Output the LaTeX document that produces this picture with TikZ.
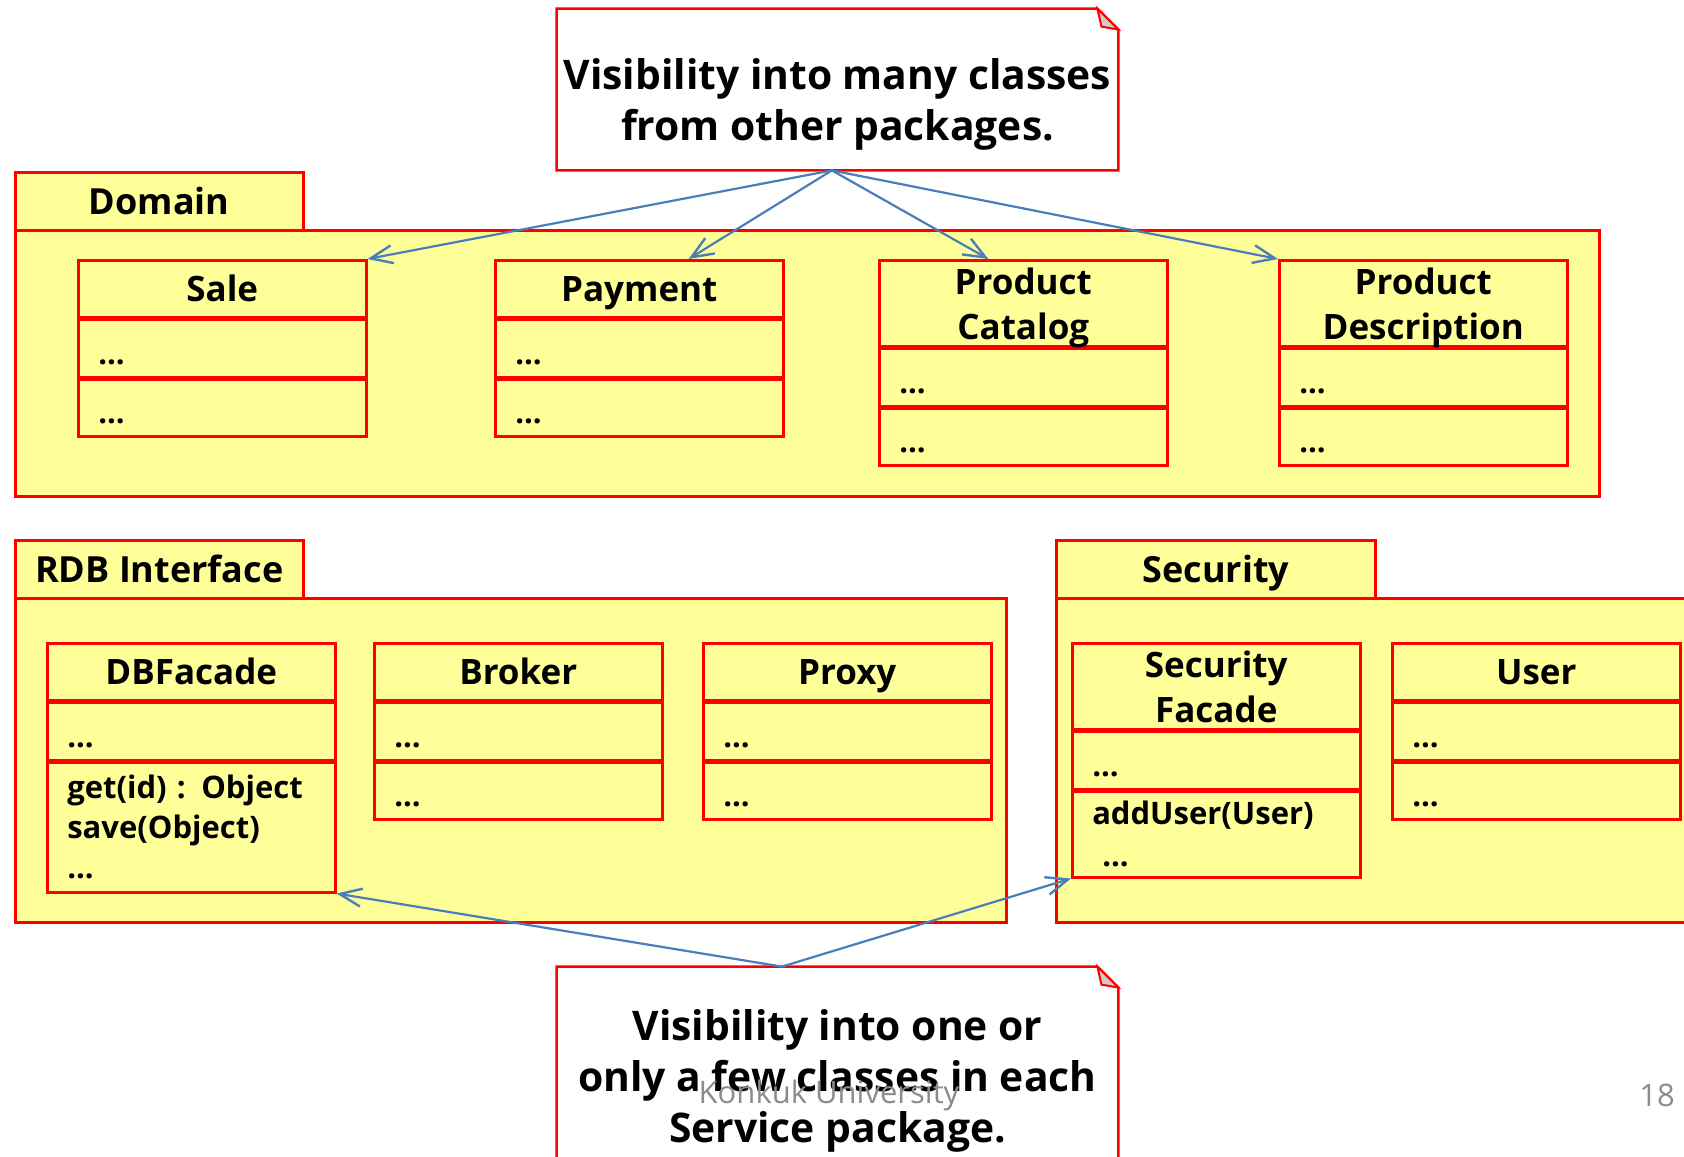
\documentclass[tikz,border=0pt]{standalone}
\usepackage{fontspec}
\setmainfont{Open Sans}
\usetikzlibrary{arrows.meta,calc}
\definecolor{umlred}{RGB}{255,0,0}
\definecolor{umlyellow}{RGB}{255,255,153}
\definecolor{arrowblue}{RGB}{74,126,187}
\definecolor{foldgray}{RGB}{205,205,205}
\definecolor{footgray}{RGB}{140,140,140}
\tikzset{
 box/.style={draw=umlred, fill=umlyellow, line width=1.25pt, inner sep=0pt, anchor=north west},
 tabbox/.style={box, minimum height=29pt, text height=13.2pt, text depth=0pt, font=\bfseries\fontsize{18}{22}\selectfont},
 bodybox/.style={box},
 head/.style={box, minimum width=144pt, minimum height=28.5pt, text height=13pt, text depth=0pt, align=center, font=\bfseries\fontsize{17.5}{22.5}\selectfont},
 headtwo/.style={box, minimum width=144pt, minimum height=43pt, text depth=0pt, align=center, font=\bfseries\fontsize{17.5}{22.5}\selectfont},
 comp/.style={box, minimum width=144pt, minimum height=28.5pt, inner xsep=10pt, text width=124pt, align=left, text height=16pt, text depth=0pt, font=\bfseries\fontsize{15.5}{20}\selectfont},
 compm/.style={box, minimum width=144pt, inner xsep=10pt, text width=124pt, align=left, font=\bfseries\fontsize{15.5}{20}\selectfont},
 notebox/.style={inner sep=0pt, minimum width=280.5pt},
 notestroke/.style={draw=umlred, fill=white, line width=1.25pt, line join=miter},
 foldstyle/.style={draw=umlred, fill=foldgray, line width=1pt},
 notetext/.style={align=center, font=\bfseries\fontsize{20.4}{25.5}\selectfont},
 vis/.style={draw=arrowblue, line width=1.1pt, -{Straight Barb[length=11pt,width=9pt,line width=1.2pt]}},
 footer/.style={text=footgray, font=\fontsize{15.5}{18}\selectfont},
}
\begin{document}
\begin{tikzpicture}[x=0.5pt,y=-0.5pt]
\useasboundingbox[fill=white] (0,0) rectangle (1684,1156);

% ---------- top note
\node[notebox, minimum height=80.5pt] (n1) at (837.5,89.5) {};
\draw[notestroke] (n1.north west) -- ([xshift=-10.5pt]n1.north east) -- ([yshift=-10.5pt]n1.north east) -- (n1.south east) -- (n1.south west) -- cycle;
\filldraw[foldstyle] ([xshift=-10.5pt]n1.north east) -- ([yshift=-10.5pt]n1.north east) -- ([xshift=-8.5pt,yshift=-9pt]n1.north east) -- cycle;
\node[notetext] (n1t) at (837.5,104) {Visibility into many classes\\from other packages.};

% ---------- Domain package
\node[bodybox, minimum width=792pt, minimum height=133pt] (dombody) at (14,229) {};
\node[tabbox, minimum width=144pt] (domtab) at (14,171) {Domain};

\node[head] (sale) at (77,259) {Sale};
\node[comp] (sale1) at (sale.south west) {...};
\node[comp] (sale2) at (sale1.south west) {...};

\node[head] (pay) at (494,259) {Payment};
\node[comp] (pay1) at (pay.south west) {...};
\node[comp] (pay2) at (pay1.south west) {...};

\node[headtwo] (cat) at (878,259) {Product\\Catalog};
\node[comp] (cat1) at (cat.south west) {...};
\node[comp] (cat2) at (cat1.south west) {...};

\node[headtwo] (desc) at (1278,259) {Product\\Description};
\node[comp] (desc1) at (desc.south west) {...};
\node[comp] (desc2) at (desc1.south west) {...};

% ---------- RDB Interface package
\node[bodybox, minimum width=495.5pt, minimum height=162pt] (rdbbody) at (14,597) {};
\node[tabbox, minimum width=144pt] (rdbtab) at (14,539) {RDB Interface};

\node[head] (dbf) at (46,642) {DBFacade};
\node[comp] (dbf1) at (dbf.south west) {...};
\node[compm, minimum height=65pt] (dbf2) at (dbf1.south west) {get(id) : Object\\save(Object)\\...};

\node[head] (brk) at (373,642) {Broker};
\node[comp] (brk1) at (brk.south west) {...};
\node[comp] (brk2) at (brk1.south west) {...};

\node[head] (prx) at (702,642) {Proxy};
\node[comp] (prx1) at (prx.south west) {...};
\node[comp] (prx2) at (prx1.south west) {...};

% ---------- Security package
\node[bodybox, minimum width=330pt, minimum height=162pt] (secbody) at (1055,597) {};
\node[tabbox, minimum width=159.5pt] (sectab) at (1055,539) {Security};

\node[headtwo] (sf) at (1071,642) {Security\\Facade};
\node[comp] (sf1) at (sf.south west) {...};
\node[compm, minimum height=43pt, font=\bfseries\fontsize{15.5}{21}\selectfont] (sf2) at (sf1.south west) {addUser(User)\\\hspace*{5pt}...};

\node[head] (usr) at (1391,642) {User};
\node[comp] (usr1) at (usr.south west) {...};
\node[comp] (usr2) at (usr1.south west) {...};

% ---------- bottom note
\node[notebox, minimum height=120pt] (n2) at (837.5,1087) {};
\draw[notestroke] (n2.north west) -- ([xshift=-10.5pt]n2.north east) -- ([yshift=-10.5pt]n2.north east) -- (n2.south east) -- (n2.south west) -- cycle;
\filldraw[foldstyle] ([xshift=-10.5pt]n2.north east) -- ([yshift=-10.5pt]n2.north east) -- ([xshift=-8.5pt,yshift=-9pt]n2.north east) -- cycle;
\node[notetext] (n2t) at (837.5,1081) {Visibility into one or\\only a few classes in each\\Service package.};

% ---------- arrows
\coordinate (n1src) at ($(n1.south west)!0.49!(n1.south east)$);
\draw[vis] (n1src) -- (sale.north east);
\draw[vis] (n1src) -- ($(pay.north west)!0.67!(pay.north east)$);
\draw[vis] (n1src) -- ($(cat.north west)!0.38!(cat.north east)$);
\draw[vis] (n1src) -- (desc.north west);
\coordinate (n2src) at ($(n2.north west)!0.401!(n2.north east)$);
\draw[vis] (n2src) -- (dbf2.south east);
\draw[vis] (n2src) -- (sf2.south west);

% ---------- footer
\node[footer] (foot) at (829,1095) {Konkuk University};
\node[footer] (page) at (1657,1095) {18};
\end{tikzpicture}
\end{document}
